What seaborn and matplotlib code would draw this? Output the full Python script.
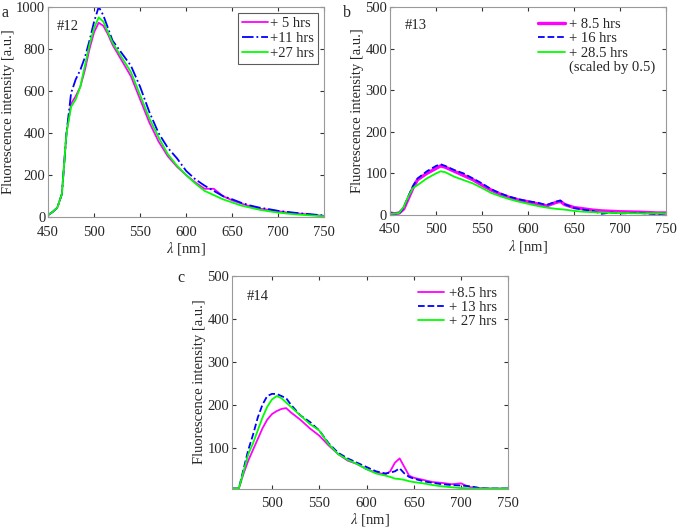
import numpy as np
import matplotlib
matplotlib.use("Agg")
import matplotlib.pyplot as plt
from matplotlib.lines import Line2D
import seaborn as sns

# --- data (wavelength in nm, intensity in a.u.) ---
# panel a, sample #12
wl_a = [450, 455, 460, 465, 470, 475, 480, 485, 490, 495, 500, 505, 510, 515, 520,
        530, 540, 550, 560, 570, 580, 590, 600, 610, 620, 630, 640, 650, 660, 670,
        680, 690, 700, 710, 720, 730, 740, 750]
a_5h = [10, 25, 45, 110, 400, 540, 575, 620, 700, 800, 880, 925, 910, 870, 820,
        745, 670, 560, 450, 360, 290, 240, 200, 165, 135, 135, 100, 80, 65, 50,
        40, 35, 28, 22, 18, 14, 10, 6]
a_11h = [10, 25, 45, 110, 400, 590, 655, 700, 760, 840, 930, 1000, 960, 900, 840,
         780, 720, 620, 500, 400, 330, 280, 220, 180, 150, 125, 100, 85, 68, 55,
         45, 38, 30, 25, 20, 16, 12, 8]
a_27h = [10, 25, 45, 110, 400, 525, 560, 620, 720, 820, 900, 950, 930, 880, 830,
         760, 690, 580, 470, 380, 300, 245, 200, 160, 125, 105, 85, 70, 55, 45,
         35, 28, 22, 17, 13, 10, 7, 4]

# panel b, sample #13
wl_b = [450, 455, 460, 465, 470, 475, 480, 490, 500, 505, 510, 520, 530, 540, 550,
        560, 570, 580, 590, 600, 610, 620, 630, 635, 640, 650, 660, 670, 680, 690,
        700, 720, 740, 750]
b_85h = [5, 3, 5, 15, 40, 65, 85, 100, 112, 118, 115, 105, 95, 85, 72,
         60, 50, 42, 36, 32, 27, 22, 30, 33, 25, 18, 15, 12, 10, 9,
         8, 7, 5, 5]
b_16h = [5, 2, 4, 18, 45, 70, 88, 105, 118, 122, 118, 108, 100, 88, 76,
         62, 52, 44, 38, 33, 30, 24, 32, 35, 26, 17, 13, 10, 3, 6,
         4, 5, 2, 4]
b_285h = [3, 3, 5, 20, 45, 65, 72, 88, 100, 105, 103, 92, 84, 76, 65,
          53, 45, 38, 32, 27, 22, 18, 15, 14, 13, 10, 8, 7, 6, 5,
          5, 4, 4, 4]

# panel c, sample #14
wl_c = [458, 465, 470, 475, 480, 485, 490, 495, 500, 505, 510, 515, 520, 530, 540,
        550, 560, 570, 580, 590, 600, 610, 620, 625, 630, 635, 640, 645, 650, 660,
        670, 680, 690, 700, 705, 710, 720, 730, 750]
c_85h = [5, 5, 40, 70, 95, 120, 145, 165, 178, 185, 190, 192, 182, 165, 145,
         128, 105, 85, 70, 62, 50, 42, 38, 45, 65, 75, 55, 35, 30, 25,
         20, 18, 15, 17, 12, 8, 6, 5, 5]
c_13h = [5, 5, 50, 95, 130, 170, 200, 220, 225, 225, 220, 215, 200, 175, 160,
         140, 110, 88, 75, 65, 55, 45, 40, 42, 45, 52, 40, 32, 28, 22,
         18, 15, 13, 12, 11, 10, 6, 5, 5]
c_27h = [5, 5, 45, 85, 110, 140, 170, 195, 212, 220, 215, 205, 195, 175, 155,
         140, 108, 85, 72, 62, 50, 40, 35, 32, 28, 27, 25, 22, 20, 17,
         13, 10, 8, 6, 6, 5, 5, 5, 5]

MAG, BLU, GRN = "#ff00ff", "#0000ff", "#00ff00"
FS = 10.5

sns.set_style("ticks")
plt.rcParams["font.family"] = ["Liberation Serif", "DejaVu Serif"]
plt.rcParams["mathtext.fontset"] = "stix"
plt.rcParams["font.size"] = FS

fig = plt.figure(figsize=(6.77, 5.31), dpi=100)
ax_a = fig.add_axes([0.071, 0.591, 0.408, 0.396])
ax_b = fig.add_axes([0.576, 0.595, 0.408, 0.392])
ax_c = fig.add_axes([0.343, 0.08, 0.408, 0.401])


def style(ax):
    for s in ax.spines.values():
        s.set_color("#999999")
        s.set_linewidth(0.8)
    ax.tick_params(direction="in", length=3, width=0.8, color="#333333",
                   labelsize=FS, top=True, right=True)
    ax.tick_params(axis="x", pad=6)
    ax.tick_params(axis="y", pad=2)
    ax.set_xlabel(r"$\lambda$ [nm]", fontsize=FS, labelpad=1)
    ax.set_ylabel("Fluorescence intensity [a.u.]", fontsize=FS, labelpad=1)


# panel a
sns.lineplot(x=wl_a, y=a_5h, ax=ax_a, color=MAG, lw=1.3, label="+ 5 hrs")
sns.lineplot(x=wl_a, y=a_11h, ax=ax_a, color=BLU, lw=1.3, ls="-.", label="+11 hrs")
sns.lineplot(x=wl_a, y=a_27h, ax=ax_a, color=GRN, lw=1.3, label="+27 hrs")
ax_a.set_xlim(450, 750)
ax_a.set_ylim(0, 1000)
ax_a.set_yticks([0, 200, 400, 600, 800, 1000])
style(ax_a)
leg = ax_a.legend(loc="upper right", fontsize=FS, frameon=True, fancybox=False,
                  handlelength=1.8, handletextpad=0.15, labelspacing=0.12,
                  borderpad=0.25, borderaxespad=0.45)
leg.get_frame().set_edgecolor("#333333")
leg.get_frame().set_linewidth(0.8)
ax_a.text(0.03, 0.905, "#12", transform=ax_a.transAxes, fontsize=FS, va="center")

# panel b
sns.lineplot(x=wl_b, y=b_85h, ax=ax_b, color=MAG, lw=2.4)
sns.lineplot(x=wl_b, y=b_16h, ax=ax_b, color=BLU, lw=1.3, ls="--")
sns.lineplot(x=wl_b, y=b_285h, ax=ax_b, color=GRN, lw=1.3)
ax_b.set_xlim(450, 750)
ax_b.set_ylim(0, 500)
ax_b.set_yticks([0, 100, 200, 300, 400, 500])
style(ax_b)
hb = [Line2D([], [], color=MAG, lw=2.4), Line2D([], [], color=BLU, lw=1.3, ls="--"),
      Line2D([], [], color=GRN, lw=1.3), Line2D([], [], color="none")]
ax_b.legend(hb, ["+ 8.5 hrs", "+ 16 hrs", "+ 28.5 hrs", "(scaled by 0.5)"],
            loc="upper right", fontsize=FS, frameon=False,
            handlelength=1.9, handletextpad=0.25, labelspacing=0.08,
            borderaxespad=0.35)
ax_b.text(0.054, 0.913, "#13", transform=ax_b.transAxes, fontsize=FS, va="center")

# panel c
sns.lineplot(x=wl_c, y=c_85h, ax=ax_c, color=MAG, lw=1.3, label="+8.5 hrs")
sns.lineplot(x=wl_c, y=c_13h, ax=ax_c, color=BLU, lw=1.3, ls="--", label="+ 13 hrs")
sns.lineplot(x=wl_c, y=c_27h, ax=ax_c, color=GRN, lw=1.3, label="+ 27 hrs")
ax_c.set_xlim(458, 750)
ax_c.set_ylim(5, 500)
ax_c.set_xticks([500, 550, 600, 650, 700, 750])
ax_c.set_yticks([100, 200, 300, 400, 500])
style(ax_c)
ax_c.legend(loc="upper right", fontsize=FS, frameon=False,
            handlelength=1.8, handletextpad=0.35, labelspacing=0.08,
            borderaxespad=0.35)
ax_c.text(0.054, 0.90, "#14", transform=ax_c.transAxes, fontsize=FS, va="center")

fig.text(0.002, 0.975, "a", fontsize=FS + 1, va="center")
fig.text(0.507, 0.975, "b", fontsize=FS + 1, va="center")
fig.text(0.262, 0.476, "c", fontsize=FS + 1, va="center")

fig.savefig("out.png", dpi=100)
